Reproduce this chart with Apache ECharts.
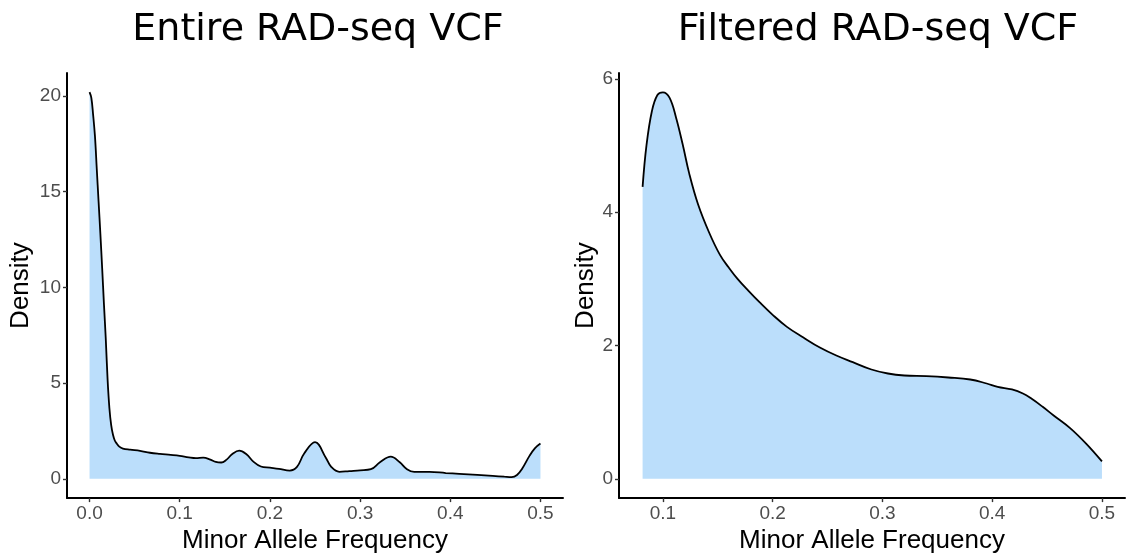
<!DOCTYPE html>
<html>
<head>
<meta charset="utf-8">
<script src="https://cdn.jsdelivr.net/npm/echarts@6/dist/echarts.min.js"></script>
<style>
  html, body { margin: 0; padding: 0; background: #fff; }
  #chart { width: 1129px; height: 559px; }
</style>
</head>
<body>
<div id="chart"></div>
<script>
// Density of minor allele frequency, whole VCF
const entireMaf = [0.000, 0.002, 0.004, 0.006, 0.008, 0.010, 0.012, 0.014, 0.016, 0.018,
  0.020, 0.022, 0.024, 0.026, 0.028, 0.030, 0.033, 0.037, 0.045, 0.056,
  0.067, 0.078, 0.090, 0.100, 0.110, 0.118, 0.126, 0.134, 0.140, 0.146,
  0.152, 0.158, 0.166, 0.174, 0.182, 0.190, 0.200, 0.210, 0.222, 0.230,
  0.238, 0.250, 0.262, 0.268, 0.277, 0.288, 0.300, 0.312, 0.322, 0.334,
  0.344, 0.352, 0.360, 0.377, 0.395, 0.410, 0.430, 0.447, 0.460, 0.468,
  0.474, 0.480, 0.488, 0.494, 0.500];
const entireDensity = [20.2, 19.9, 19.0, 17.9, 16.2, 14.5, 12.8, 11.0, 9.1, 7.3,
  5.2, 3.7, 2.8, 2.3, 2.0, 1.85, 1.68, 1.58, 1.52, 1.46,
  1.36, 1.30, 1.25, 1.20, 1.12, 1.08, 1.10, 1.00, 0.88, 0.85,
  1.00, 1.28, 1.47, 1.28, 0.88, 0.64, 0.58, 0.52, 0.43, 0.62,
  1.32, 1.91, 1.10, 0.62, 0.36, 0.40, 0.44, 0.50, 0.86, 1.16,
  0.86, 0.50, 0.36, 0.36, 0.30, 0.26, 0.20, 0.15, 0.11, 0.09,
  0.20, 0.55, 1.21, 1.60, 1.84];

// Density of minor allele frequency, filtered VCF
const filteredMaf = [0.0815, 0.085, 0.090, 0.095, 0.100, 0.106, 0.112, 0.118, 0.124, 0.132,
  0.142, 0.152, 0.160, 0.168, 0.178, 0.188, 0.200, 0.213, 0.228, 0.243,
  0.258, 0.273, 0.290, 0.305, 0.320, 0.340, 0.360, 0.380, 0.395, 0.405,
  0.418, 0.428, 0.436, 0.446, 0.456, 0.471, 0.486, 0.500];
const filteredDensity = [4.38, 5.0, 5.52, 5.76, 5.80, 5.72, 5.42, 5.02, 4.58, 4.12,
  3.70, 3.36, 3.17, 3.00, 2.82, 2.65, 2.46, 2.28, 2.12, 1.97,
  1.85, 1.75, 1.64, 1.58, 1.55, 1.54, 1.52, 1.49, 1.43, 1.38,
  1.34, 1.28, 1.20, 1.08, 0.95, 0.76, 0.52, 0.26];

// Tick labels
const entireXTicks = [0.0, 0.1, 0.2, 0.3, 0.4, 0.5];
const entireYTicks = [0, 5, 10, 15, 20];
const filteredXTicks = [0.1, 0.2, 0.3, 0.4, 0.5];
const filteredYTicks = [0, 2, 4, 6];

const titles = ['Entire RAD-seq VCF', 'Filtered RAD-seq VCF'];
const xName = 'Minor Allele Frequency';
const yName = 'Density';

const pairs = (xs, ys) => xs.map((x, i) => [x, ys[i]]);

const sansFont = '"Liberation Sans", Arial, sans-serif';
const titleFont = '"DejaVu Sans", Verdana, sans-serif';

function xAxisFor(gridIndex, min, max, ticks) {
  return {
    type: 'value', gridIndex, min, max,
    name: xName, nameLocation: 'middle', nameGap: 22,
    nameTextStyle: { fontFamily: sansFont, fontSize: 26, color: '#000' },
    axisLine: { show: true, onZero: false, lineStyle: { color: '#000', width: 2 } },
    axisTick: { show: true, customValues: ticks, length: 4, lineStyle: { color: '#333', width: 1.4 } },
    axisLabel: { customValues: ticks, formatter: v => v.toFixed(1), margin: 6,
      fontFamily: sansFont, fontSize: 19, color: '#4d4d4d' },
    splitLine: { show: false }
  };
}

function yAxisFor(gridIndex, min, max, ticks, gap) {
  return {
    type: 'value', gridIndex, min, max,
    name: yName, nameLocation: 'middle', nameGap: gap,
    nameTextStyle: { fontFamily: sansFont, fontSize: 26, color: '#000' },
    axisLine: { show: true, onZero: false, lineStyle: { color: '#000', width: 2 } },
    axisTick: { show: true, customValues: ticks, length: 4, lineStyle: { color: '#333', width: 1.4 } },
    axisLabel: { customValues: ticks, formatter: v => String(v), margin: 6,
      fontFamily: sansFont, fontSize: 19, color: '#4d4d4d' },
    splitLine: { show: false }
  };
}

function densitySeries(idx, data) {
  return {
    type: 'line', xAxisIndex: idx, yAxisIndex: idx, data,
    smooth: 0.4, showSymbol: false, silent: true,
    lineStyle: { color: '#000', width: 1.8 },
    areaStyle: { color: '#bbdefb', opacity: 1 }
  };
}

const chart = echarts.init(document.getElementById('chart'), null, { renderer: 'canvas' });
chart.setOption({
  animation: false,
  backgroundColor: '#fff',
  title: [
    { text: titles[0], left: 313, top: 6, textAlign: 'center',
      textStyle: { fontFamily: titleFont, fontSize: 38, fontWeight: 'normal', color: '#000' } },
    { text: titles[1], left: 873, top: 6, textAlign: 'center',
      textStyle: { fontFamily: titleFont, fontSize: 38, fontWeight: 'normal', color: '#000' } }
  ],
  grid: [
    { left: 67, top: 73, width: 496, height: 434, containLabel: false },
    { left: 619, top: 73, width: 506, height: 434, containLabel: false }
  ],
  xAxis: [
    xAxisFor(0, -0.025, 0.525, entireXTicks),
    xAxisFor(1, 0.06, 0.521, filteredXTicks)
  ],
  yAxis: [
    yAxisFor(0, -1.01, 21.2, entireYTicks, 33),
    yAxisFor(1, -0.29, 6.09, filteredYTicks, 20)
  ],
  series: [
    densitySeries(0, pairs(entireMaf, entireDensity)),
    densitySeries(1, pairs(filteredMaf, filteredDensity))
  ]
});
</script>
</body>
</html>
